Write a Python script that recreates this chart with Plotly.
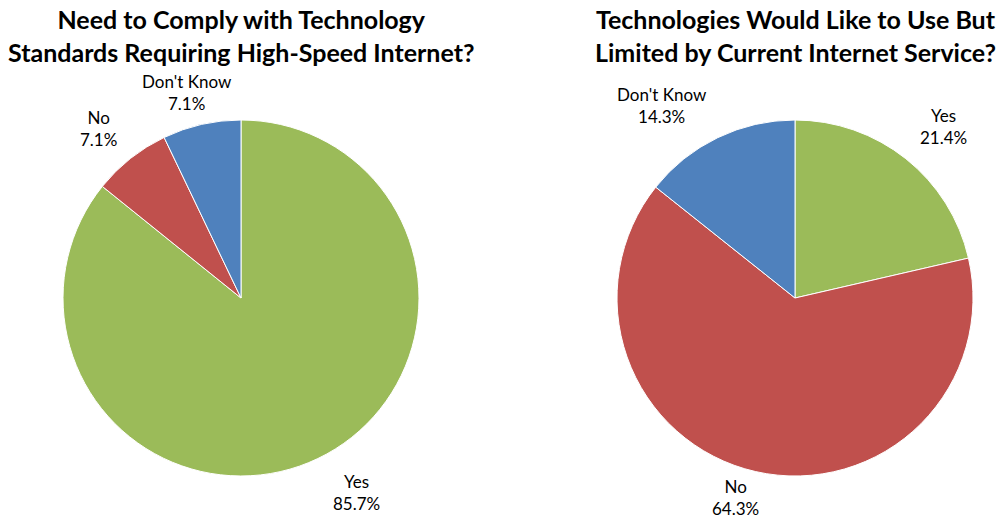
import plotly.graph_objects as go

# data
labels = ["Yes", "No", "Don't Know"]
comply_vals = [85.7, 7.1, 7.1]
limited_vals = [21.4, 64.3, 14.3]
titles = [
    "Need to Comply with Technology<br>Standards Requiring High-Speed Internet?",
    "Technologies Would Like to Use But<br>Limited by Current Internet Service?",
]

_COLORS = ["#9BBB59", "#C0504D", "#4F81BD"]
_FONT = "Lato"
W, H = 996, 519


def px(x, y):
    return x / W, 1 - y / H


fig = go.Figure()
for vals, (x0, x1) in [(comply_vals, (63, 419)), (limited_vals, (617, 973))]:
    fig.add_trace(go.Pie(
        labels=labels, values=vals,
        sort=False, direction="clockwise", rotation=0,
        marker=dict(colors=_COLORS, line=dict(color="white", width=1)),
        textinfo="none", hoverinfo="label+percent",
        domain=dict(x=[x0 / W, x1 / W], y=[1 - 476 / H, 1 - 120 / H]),
        showlegend=False,
    ))

# titles
for t, cx in zip(titles, [241, 795]):
    x, y = px(cx, 36)
    fig.add_annotation(x=x, y=y, xref="paper", yref="paper", text=f"<b>{t}</b>",
                       showarrow=False, font=dict(size=25, color="black"),
                       xanchor="center", yanchor="middle")

# slice labels
label_pos = [
    (comply_vals, [(356, 492), (98, 128), (187, 92)]),
    (limited_vals, [(943, 126), (735, 497), (662, 106)]),
]
for vals, pos in label_pos:
    for lab, v, (cx, cy) in zip(labels, vals, pos):
        x, y = px(cx, cy)
        fig.add_annotation(x=x, y=y, xref="paper", yref="paper",
                           text=f"{lab}<br>{v:.1f}%", showarrow=False,
                           font=dict(size=17, color="black"),
                           xanchor="center", yanchor="middle")

fig.update_layout(
    width=W, height=H,
    font=dict(family=_FONT),
    margin=dict(l=0, r=0, t=0, b=0),
    paper_bgcolor="white",
    plot_bgcolor="white",
)
fig.write_html("out.html", config={"displayModeBar": False},
               post_script="document.body.style.margin='0';")
